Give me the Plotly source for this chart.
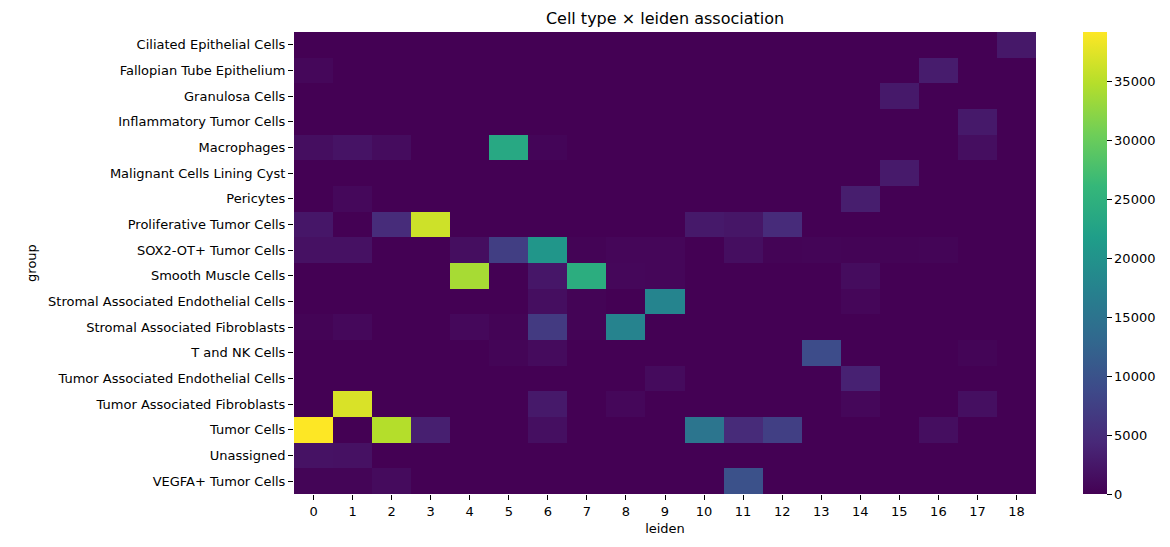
import plotly.graph_objects as go

groups = ["Ciliated Epithelial Cells", "Fallopian Tube Epithelium", "Granulosa Cells",
          "Inflammatory Tumor Cells", "Macrophages", "Malignant Cells Lining Cyst",
          "Pericytes", "Proliferative Tumor Cells", "SOX2-OT+ Tumor Cells",
          "Smooth Muscle Cells", "Stromal Associated Endothelial Cells",
          "Stromal Associated Fibroblasts", "T and NK Cells",
          "Tumor Associated Endothelial Cells", "Tumor Associated Fibroblasts",
          "Tumor Cells", "Unassigned", "VEGFA+ Tumor Cells"]
leiden = [str(i) for i in range(19)]

#            0      1      2      3      4      5      6      7      8      9     10     11     12     13     14    15    16    17    18
ciliated  = [0,     0,     0,     0,     0,     0,     0,     0,     0,     0,     0,     0,     0,     0,     0,    0,    0,    0,    2600]
fallopian = [700,   0,     0,     0,     0,     0,     0,     0,     0,     0,     0,     0,     0,     0,     0,    0,    3000, 0,    0]
granulosa = [0,     0,     0,     0,     0,     0,     0,     0,     0,     0,     0,     0,     0,     0,     0,    2700, 0,    0,    0]
inflam    = [0,     0,     0,     0,     0,     0,     0,     0,     0,     0,     0,     0,     0,     0,     0,    0,    0,    2700, 0]
macro     = [1400,  2000,  1200,  0,     0,     23500, 500,   0,     0,     0,     0,     0,     0,     0,     0,    0,    0,    1400, 0]
malignant = [0,     0,     0,     0,     0,     0,     0,     0,     0,     0,     0,     0,     0,     0,     0,    2800, 0,    0,    0]
pericytes = [0,     800,   0,     0,     0,     0,     0,     0,     0,     0,     0,     0,     0,     0,     3200, 0,    0,    0,    0]
prolif    = [2400,  0,     4900,  36300, 0,     0,     0,     0,     0,     0,     2700,  2300,  4800,  0,     0,    0,    0,    0,    0]
sox2      = [1800,  1800,  0,     0,     1400,  7200,  20500, 300,   600,   600,   0,     1400,  300,   400,   300,  300,  400,  0,    0]
smooth    = [0,     0,     0,     0,     34000, 0,     2400,  24400, 700,   600,   0,     0,     0,     0,     1200, 0,    0,    0,    0]
stromal_e = [0,     0,     0,     0,     0,     0,     1400,  300,   0,     17800, 0,     0,     0,     0,     600,  0,    0,    0,    0]
stromal_f = [300,   800,   0,     0,     800,   300,   6700,  300,   17600, 0,     0,     0,     0,     0,     0,    0,    0,    0,    0]
tnk       = [0,     0,     0,     0,     0,     400,   1100,  0,     0,     0,     0,     0,     0,     9200,  0,    0,    0,    400,  0]
tumor_e   = [0,     0,     0,     0,     0,     0,     0,     0,     0,     1100,  0,     0,     0,     0,     3600, 0,    0,    0,    0]
tumor_f   = [0,     37000, 0,     0,     0,     0,     2700,  0,     700,   0,     0,     0,     0,     0,     700,  0,    0,    1600, 0]
tumor     = [39200, 0,     34800, 3400,  0,     0,     1600,  0,     0,     0,     15200, 4700,  7400,  0,     0,    0,    1400, 0,    0]
unassign  = [1900,  1800,  0,     0,     0,     0,     0,     0,     0,     0,     0,     0,     0,     0,     0,    0,    0,    0,    0]
vegfa     = [400,   400,   1100,  0,     0,     0,     0,     0,     0,     0,     0,     9800,  0,     0,     0,    0,    0,    0,    0]

z = [ciliated, fallopian, granulosa, inflam, macro, malignant, pericytes, prolif, sox2,
     smooth, stromal_e, stromal_f, tnk, tumor_e, tumor_f, tumor, unassign, vegfa]

cbar_ticks = [0, 5000, 10000, 15000, 20000, 25000, 30000, 35000]

font = "DejaVu Sans"
plot_l, plot_r = 294, 1036

fig = go.Figure(go.Heatmap(
    z=z, x=leiden, y=groups, colorscale="Viridis", zmin=0, zmax=39200,
    colorbar=dict(
        thickness=24, len=1, lenmode="fraction", y=0.5, yanchor="middle", ypad=0,
        x=(1083 - plot_l) / (plot_r - plot_l), xanchor="left", xpad=0,
        outlinewidth=0, tickvals=cbar_ticks, ticktext=[str(t) for t in cbar_ticks],
        ticks="outside", ticklen=5, tickwidth=1, tickcolor="black",
        tickfont=dict(family=font, size=13, color="black"),
    ),
))

fig.update_layout(
    width=1170, height=547,
    margin=dict(l=plot_l, r=1170 - plot_r, t=32, b=53, pad=0),
    paper_bgcolor="white", plot_bgcolor="white",
    font=dict(family=font, size=13, color="black"),
    title=dict(text="Cell type × leiden association", x=665 / 1170, xanchor="center",
               y=1 - 18 / 547, yanchor="middle", font=dict(family=font, size=16, color="black")),
    xaxis=dict(title=dict(text="leiden", font=dict(size=13), standoff=6),
               ticks="outside", ticklen=5, tickcolor="black", showgrid=False,
               zeroline=False, showline=False, tickfont=dict(size=13)),
    yaxis=dict(title=dict(text="group", font=dict(size=13), standoff=8),
               autorange="reversed", ticks="outside", ticklen=5, tickcolor="black",
               showgrid=False, zeroline=False, showline=False, tickfont=dict(size=13)),
)

fig.write_html("out.html")
